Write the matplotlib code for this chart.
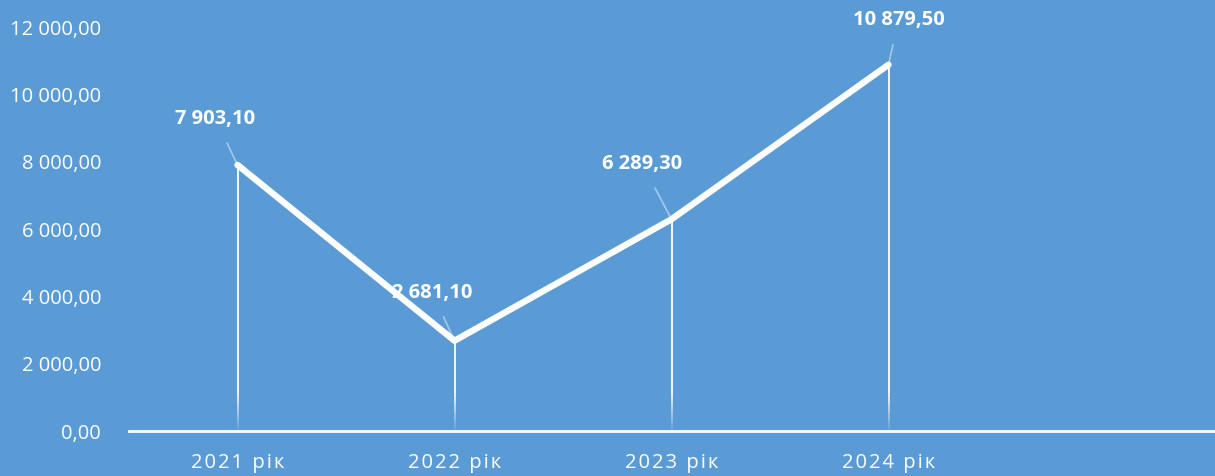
import matplotlib

matplotlib.use("Agg")
import matplotlib.pyplot as plt
from matplotlib.ticker import FuncFormatter

BG = "#5b9bd5"
WHITE = "#ffffff"

years = ["2021 рік", "2022 рік", "2023 рік", "2024 рік"]
values = [7903.10, 2681.10, 6289.30, 10879.50]
label_offsets = [(-22, 46), (-22, 48), (-29, 55), (10, 45)]  # pixels, label centre vs point

plt.rcParams["font.family"] = ["Open Sans", "DejaVu Sans"]


def ua_num(v, _pos=None):
    s = f"{v:,.2f}"
    return s.replace(",", " ").replace(".", ",")


def spaced(s):
    # Excel-style letter spacing on the category labels
    return "\u200a".join(s)


fig = plt.figure(figsize=(12.15, 4.76), dpi=100, facecolor=BG)
ax = fig.add_axes([129 / 1215, 45 / 476, 1085 / 1215, 404 / 476], facecolor=BG)

x = list(range(len(years)))

# drop lines, fading out near the axis
for xi, v in zip(x, values):
    ax.vlines(xi, 1200, v, color=WHITE, lw=1.3, zorder=2)
    steps = 12
    for k in range(steps):
        y0 = 1200 * k / steps
        y1 = 1200 * (k + 1) / steps
        ax.vlines(xi, y0, y1, color=WHITE, lw=1.3, alpha=(k + 1) / steps, zorder=2)

ax.plot(x, values, color=WHITE, lw=4.6, solid_capstyle="round", zorder=3)

for xi, v, (dx, dy) in zip(x, values, label_offsets):
    ax.annotate(ua_num(v), xy=(xi, v), xytext=(dx, dy), textcoords="offset pixels",
                ha="center", va="center", fontsize=14.5, fontweight="bold",
                color=WHITE, zorder=4,
                arrowprops=dict(arrowstyle="-", color=WHITE, alpha=0.45, lw=1.2,
                                shrinkA=9, shrinkB=2))

ax.set_xlim(-0.5, 4.5)
ax.set_ylim(0, 12000)
ax.set_yticks(range(0, 12001, 2000))
ax.yaxis.set_major_formatter(FuncFormatter(ua_num))
ax.set_xticks(x)
ax.set_xticklabels([spaced(y) for y in years])

for side in ["top", "right", "left"]:
    ax.spines[side].set_visible(False)
ax.spines["bottom"].set_color(WHITE)
ax.spines["bottom"].set_linewidth(2)

ax.tick_params(axis="y", length=0, pad=20, labelsize=14.5, labelcolor=WHITE)
ax.tick_params(axis="x", length=0, pad=16, labelsize=14.5, labelcolor=WHITE)

fig.savefig("out.png", dpi=100, facecolor=BG)
